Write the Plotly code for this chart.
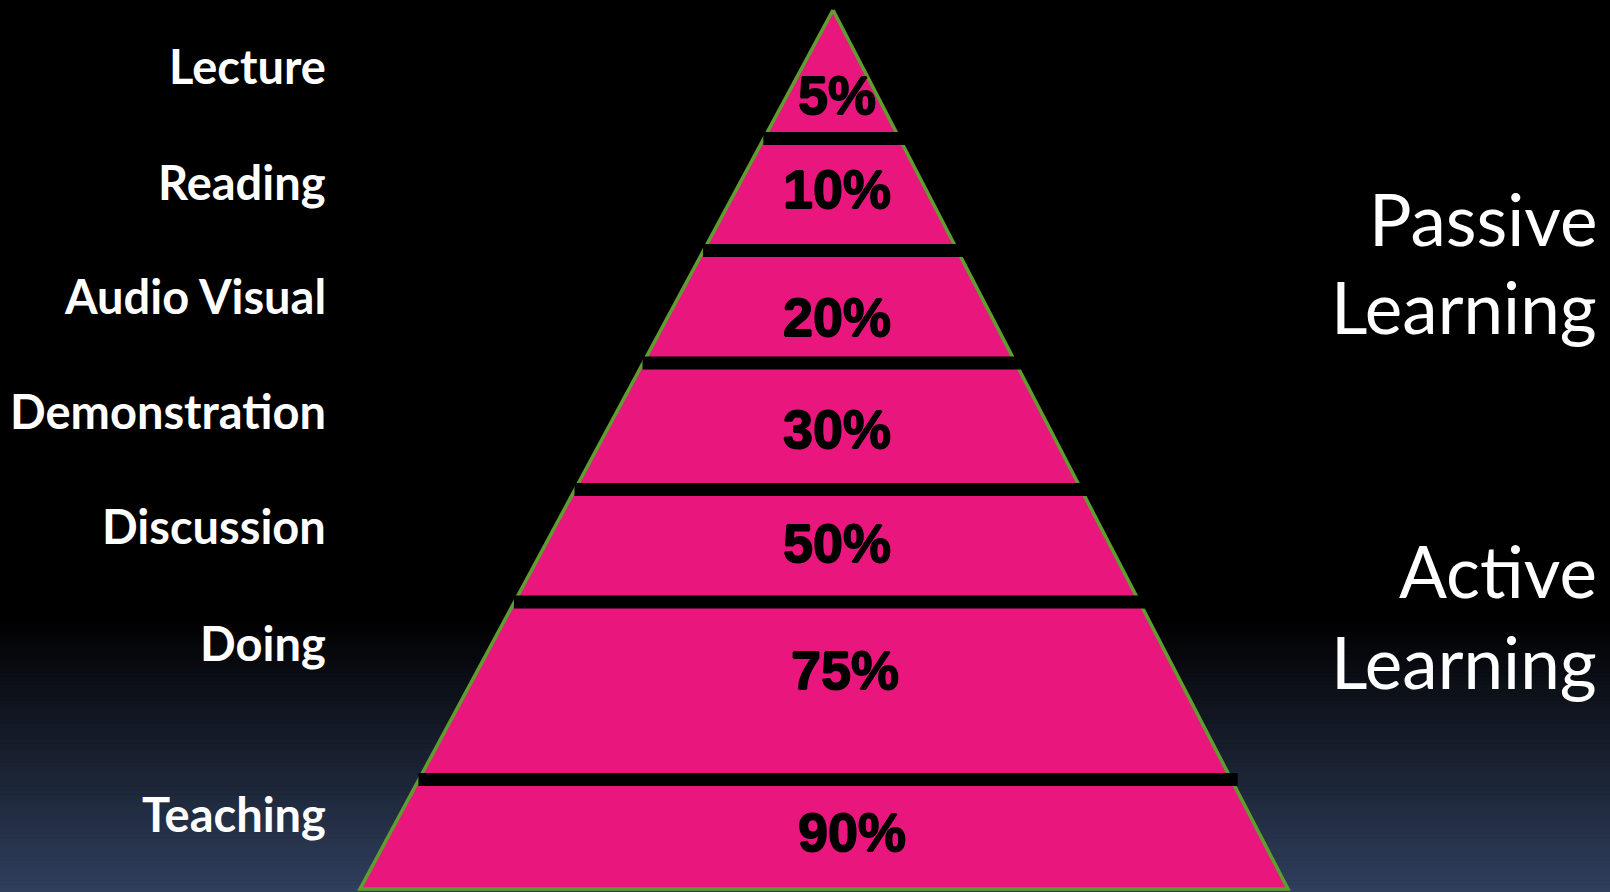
import plotly.graph_objects as go

# ---------------- data ----------------
methods = ["Lecture", "Reading", "Audio Visual", "Demonstration",
           "Discussion", "Doing", "Teaching"]
retention = [5, 10, 20, 30, 50, 75, 90]
group_lines = [["Passive", "Learning"], ["Active", "Learning"]]

# ---------------- layout geometry (pixel space) ----------------
W, H = 1610, 892
apex = (833, 10)
base_y = 889
base_left, base_right = 360, 1288
separator_y = [138.5, 250.5, 363, 489.5, 602, 779.5]   # centres of black bars
bar_thick = 13
method_label_y = [66, 182, 296, 411, 526, 643, 814]
pct_label_y = [95, 189, 317, 429, 543, 670, 832]
pct_label_dx = [4, 4, 4, 4, 4, 12, 19]
group_label_y = [[218, 306], [570, 661]]

PINK = "#E9177D"
GREEN = "#5E9E2F"


def edge_x(y):
    t = (y - apex[1]) / (base_y - apex[1])
    left = apex[0] + (base_left - apex[0]) * t
    right = apex[0] + (base_right - apex[0]) * t
    return left, right


fig = go.Figure()

# pyramid body
fig.add_trace(go.Scatter(
    x=[apex[0], base_left, base_right, apex[0]],
    y=[apex[1], base_y, base_y, apex[1]],
    mode="lines", fill="toself", fillcolor=PINK,
    line=dict(color=GREEN, width=3.5), hoverinfo="skip", showlegend=False))

shapes = []
# background gradient (bottom part of slide)
g0, g1 = 618, H
top_c = (0, 0, 0)
bot_c = (48, 63, 93)
n = 70
for i in range(n):
    y0 = g0 + (g1 - g0) * i / n
    y1 = g0 + (g1 - g0) * (i + 1) / n
    f = (i + 0.5) / n
    c = tuple(int(round(top_c[k] + (bot_c[k] - top_c[k]) * f)) for k in range(3))
    shapes.append(dict(type="rect", xref="x", yref="y", x0=0, x1=W, y0=y0, y1=y1 + 0.6,
                       fillcolor="rgb(%d,%d,%d)" % c, line=dict(width=0), layer="below"))

# black separator bars
for sy in separator_y:
    l, r = edge_x(sy + bar_thick / 2)
    shapes.append(dict(type="rect", xref="x", yref="y",
                       x0=l + 3, x1=r + 3, y0=sy - bar_thick / 2, y1=sy + bar_thick / 2,
                       fillcolor="black", line=dict(width=0), layer="above"))

annotations = []
for name, y in zip(methods, method_label_y):
    annotations.append(dict(x=328, y=y, xref="x", yref="y", text=name, showarrow=False,
                            xanchor="right", yanchor="middle",
                            font=dict(family="Lato", size=47, color="white", weight="bold")))

heavy = "0.7px 0 0 black, -0.7px 0 0 black, 0 0.7px 0 black, 0 -0.7px 0 black"
for val, y, dx in zip(retention, pct_label_y, pct_label_dx):
    annotations.append(dict(x=apex[0] + dx, y=y, xref="x", yref="y", text=f"{val}%",
                            showarrow=False, xanchor="center", yanchor="middle",
                            font=dict(family="Liberation Sans", size=54, color="black",
                                      weight="bold", shadow=heavy)))

for lines, ys in zip(group_lines, group_label_y):
    for t, y in zip(lines, ys):
        annotations.append(dict(x=1599, y=y, xref="x", yref="y", text=t, showarrow=False,
                                xanchor="right", yanchor="middle",
                                font=dict(family="Lato", size=71, color="white")))

fig.update_layout(
    width=W, height=H, margin=dict(l=0, r=0, t=0, b=0, pad=0),
    paper_bgcolor="black", plot_bgcolor="black",
    xaxis=dict(range=[0, W], visible=False, fixedrange=True),
    yaxis=dict(range=[H, 0], visible=False, fixedrange=True),
    shapes=shapes, annotations=annotations, showlegend=False)

fig.write_html("out.html", config={"displayModeBar": False})
